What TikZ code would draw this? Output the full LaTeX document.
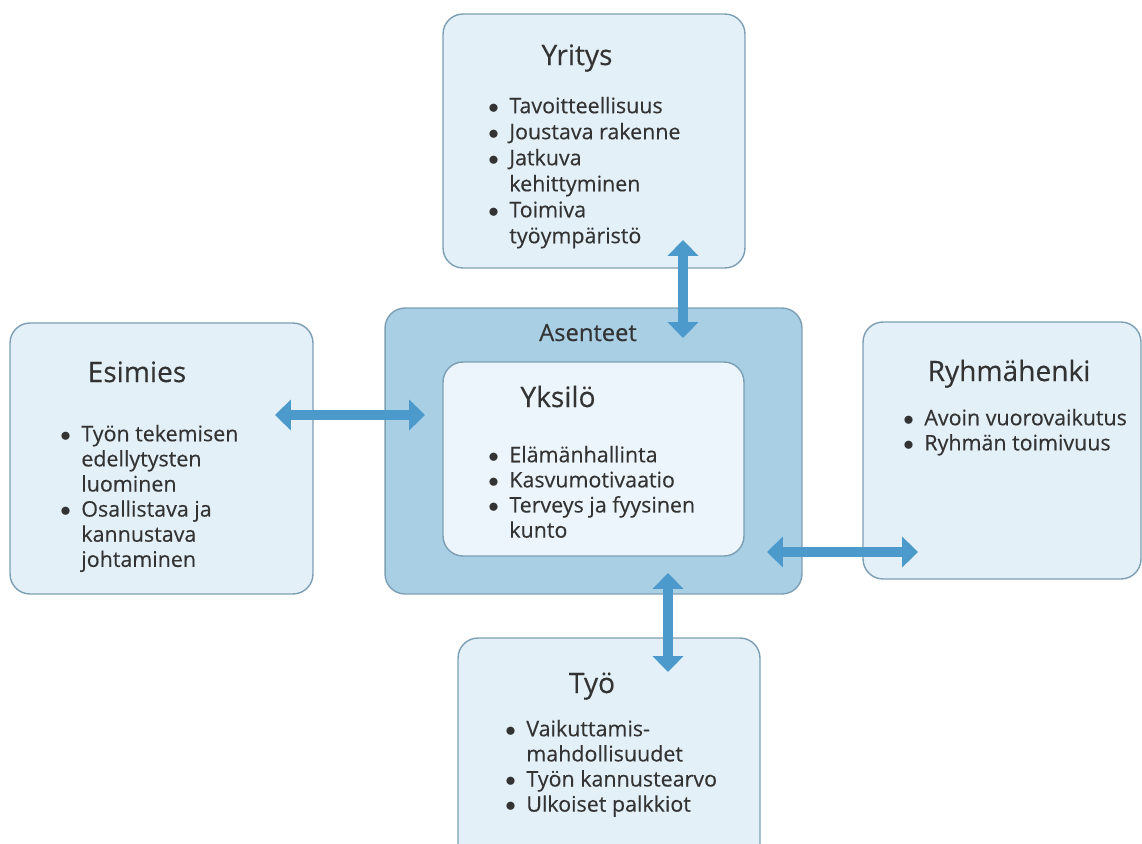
\documentclass[tikz,border=0pt]{standalone}
\usepackage{fontspec}
\setmainfont{Open Sans}[FakeBold=0.3]
\usetikzlibrary{arrows.meta}
\definecolor{boxfill}{HTML}{E3F0F8}
\definecolor{boxline}{HTML}{7C9FB4}
\definecolor{outerfill}{HTML}{A9CFE5}
\definecolor{innerfill}{HTML}{EBF5FB}
\definecolor{arrowblue}{HTML}{4C9ACB}
\definecolor{txt}{HTML}{333333}
\newcommand{\itm}{\makebox[0.42cm][l]{$\bullet$}}
\newcommand{\ind}{\hspace*{0.42cm}}
\begin{document}
\begin{tikzpicture}[x=0.02cm, y=-0.02cm, line join=round, text=txt,
    font=\fontsize{12.2}{14.3}\selectfont,
    box/.style={draw=boxline, line width=0.8pt, fill=boxfill, rounded corners=0.4cm},
    title/.style={font=\fontsize{16}{19}\selectfont, inner sep=0pt, anchor=base},
    list/.style={align=left, inner sep=0pt, anchor=north west},
    dbl/.style={draw=arrowblue, line width=5.5pt,
      {Triangle[width=17pt,length=9pt]}-{Triangle[width=17pt,length=9pt]}}]
  \useasboundingbox (0,0) rectangle (1142,843);
  \clip (0,0) rectangle (1142,843);
  \node[box, minimum width=6.04cm, minimum height=5.08cm] (yritys) at (594,141) {};
  \node[box, minimum width=6.06cm, minimum height=5.42cm] (esimies) at (161.5,458.5) {};
  \node[box, fill=outerfill, minimum width=8.34cm, minimum height=5.72cm] (asenteet) at (593.5,451) {};
  \node[box, fill=innerfill, minimum width=6.02cm, minimum height=3.88cm] (yksilo) at (593.5,459) {};
  \node[box, minimum width=5.56cm, minimum height=5.14cm] (ryhma) at (1002,450.5) {};
  \node[box, minimum width=6.04cm, minimum height=4.84cm] (tyo) at (609,759) {};

  \node[title] (yritys-t) at (577,65) {Yritys};
  \node[title] (esimies-t) at (137,382) {Esimies};
  \node[title, font=\fontsize{13.5}{16}\selectfont] (asenteet-t) at (588,341) {Asenteet};
  \node[title] (yksilo-t) at (558,407) {Yksilö};
  \node[title] (ryhma-t) at (1009,381) {Ryhmähenki};
  \node[title] (tyo-t) at (592,693) {Työ};

  \node[list, font=\fontsize{12.2}{14.8}\selectfont] (yritys-l) at (488,96.6) {\itm Tavoitteellisuus\\ \itm Joustava rakenne\\ \itm Jatkuva\\ \ind kehittyminen\\ \itm Toimiva\\ \ind työympäristö};
  \node[list] (esimies-l) at (60,424.6) {\itm Työn tekemisen\\ \ind edellytysten\\ \ind luominen\\ \itm Osallistava ja\\ \ind kannustava\\ \ind johtaminen};
  \node[list] (yksilo-l) at (488,445.6) {\itm Elämänhallinta\\ \itm Kasvumotivaatio\\ \itm Terveys ja fyysinen\\ \ind kunto};
  \node[list] (ryhma-l) at (903,408.6) {\itm Avoin vuorovaikutus\\ \itm Ryhmän toimivuus};
  \node[list] (tyo-l) at (505,719.6) {\itm Vaikuttamis-\\ \ind mahdollisuudet\\ \itm Työn kannustearvo\\ \itm Ulkoiset palkkiot};

  \coordinate (yritys-in) at (683,240);
  \coordinate (asenteet-top) at (683,338);
  \coordinate (esimies-in) at (275,415);
  \coordinate (yksilo-left) at (425,415);
  \coordinate (asenteet-right) at (767,552);
  \coordinate (ryhma-in) at (918,552);
  \coordinate (asenteet-bottom) at (668,573);
  \coordinate (tyo-in) at (668,672);
  \draw[dbl] (yritys-in) -- (asenteet-top);
  \draw[dbl] (esimies-in) -- (yksilo-left);
  \draw[dbl] (asenteet-right) -- (ryhma-in);
  \draw[dbl] (asenteet-bottom) -- (tyo-in);
\end{tikzpicture}
\end{document}
